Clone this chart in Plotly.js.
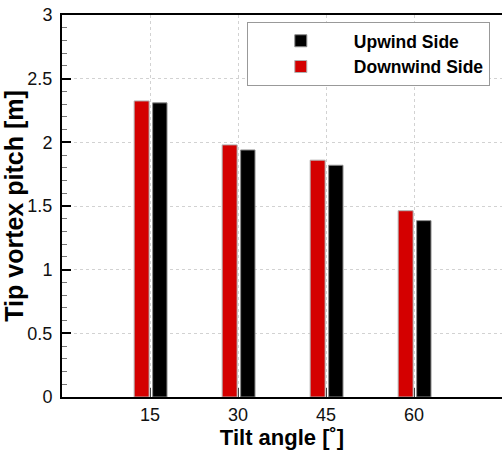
<!DOCTYPE html>
<html>
<head>
<meta charset="utf-8">
<script src="https://cdn.plot.ly/plotly-3.0.1.min.js"></script>
<style>html,body{margin:0;padding:0;background:#fff;}#chart{width:502px;height:450px;}</style>
</head>
<body>
<div id="chart"></div>
<script>
const tiltAngles = [15, 30, 45, 60];
const tickLabels = ['15', '30', '45', '60'];
const upwindSide = [2.31, 1.94, 1.82, 1.385];
const downwindSide = [2.325, 1.98, 1.86, 1.463];
const seriesNames = ['Upwind Side', 'Downwind Side'];

const FONT = 'Liberation Sans, Arial, sans-serif';

const traces = [
  {
    type: 'bar', name: seriesNames[0], x: tiltAngles, y: upwindSide,
    width: 2.45, offset: 0.45,
    marker: {color: '#000000', line: {color: '#8a8a8a', width: 1}}
  },
  {
    type: 'bar', name: seriesNames[1], x: tiltAngles, y: downwindSide,
    width: 2.55, offset: -2.7,
    marker: {color: '#d40000', line: {color: '#b0b0b0', width: 1}}
  }
];

const layout = {
  width: 502, height: 450,
  margin: {l: 62, r: 0, t: 15, b: 53},
  paper_bgcolor: '#ffffff', plot_bgcolor: '#ffffff',
  font: {family: FONT, size: 16, color: '#000'},
  barmode: 'overlay',
  showlegend: true,
  legend: {
    x: 0.42, y: 0.982, xanchor: 'left', yanchor: 'top',
    bgcolor: '#ffffff', bordercolor: '#999999', borderwidth: 1,
    font: {family: FONT, size: 17.5, color: '#000', weight: 'bold'},
    itemwidth: 96, traceorder: 'normal'
  },
  xaxis: {
    range: [0, 75], tickvals: tiltAngles, ticktext: tickLabels,
    ticks: 'inside', ticklen: 9, tickwidth: 1, tickcolor: '#444',
    showline: true, linecolor: '#000', linewidth: 2, mirror: true,
    showgrid: true, gridcolor: '#d2d2d2', griddash: 'dot', gridwidth: 1,
    zeroline: false, tickfont: {size: 18, color: '#111'},
    title: {text: 'Tilt angle [˚]', font: {size: 22, weight: 'bold', color: '#000'}, standoff: 10}
  },
  yaxis: {
    range: [0, 3], dtick: 0.5, tick0: 0,
    ticks: 'inside', ticklen: 9, tickwidth: 2, tickcolor: '#000',
    minor: {dtick: 0.1, ticks: 'inside', ticklen: 5, tickwidth: 1, tickcolor: '#777', showgrid: false},
    showline: true, linecolor: '#000', linewidth: 2, mirror: false,
    showgrid: true, gridcolor: '#d2d2d2', griddash: 'dot', gridwidth: 1,
    zeroline: false, tickfont: {size: 18, color: '#111'}, ticklabelstandoff: 4,
    title: {text: 'Tip vortex pitch [m]', font: {size: 25, weight: 'bold', color: '#000'}, standoff: 4}
  }
};

Plotly.newPlot('chart', traces, layout, {displayModeBar: false, staticPlot: true});
</script>
</body>
</html>
